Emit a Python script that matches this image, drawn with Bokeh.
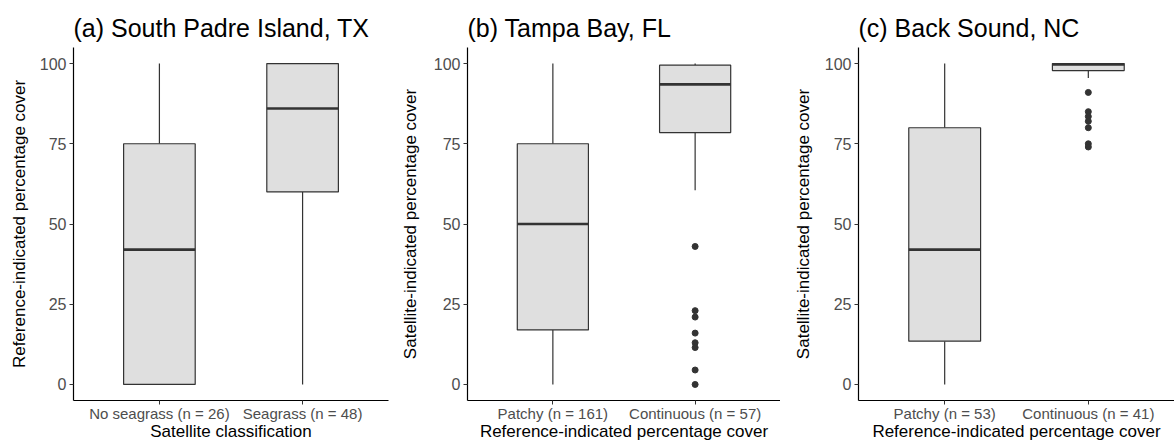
from bokeh.plotting import figure
from bokeh.layouts import row
from bokeh.models import Range1d, FixedTicker
from bokeh.embed import file_html
from bokeh.resources import INLINE

# ---- data ----
titles = ["(a) South Padre Island, TX", "(b) Tampa Bay, FL", "(c) Back Sound, NC"]
y_labels = ["Reference-indicated percentage cover",
            "Satellite-indicated percentage cover",
            "Satellite-indicated percentage cover"]
x_labels = ["Satellite classification",
            "Reference-indicated percentage cover",
            "Reference-indicated percentage cover"]

cats_a = ["No seagrass (n = 26)", "Seagrass (n = 48)"]
low_a = [0, 0]
q1_a = [0, 60]
med_a = [42, 86]
q3_a = [75, 100]
up_a = [100, 100]
out_a = [[], []]

cats_b = ["Patchy (n = 161)", "Continuous (n = 57)"]
low_b = [0, 60.5]
q1_b = [17, 78.5]
med_b = [50, 93.5]
q3_b = [75, 99.5]
up_b = [100, 100]
out_b = [[], [43, 23, 21, 16, 13, 11.5, 4.5, 0]]

cats_c = ["Patchy (n = 53)", "Continuous (n = 41)"]
low_c = [0, 95.5]
q1_c = [13.5, 97.8]
med_c = [42, 99.7]
q3_c = [80, 100]
up_c = [100, 100]
out_c = [[], [91, 85, 83.5, 82, 80, 75, 74]]

y_ticks = [0, 25, 50, 75, 100]

FONT = "Liberation Sans"
BOX_FILL = "#DFDFDF"
LINE = "#333333"


def panel(title, cats, low, q1, med, q3, up, outs, ylab, xlab, width, bl, br, ylab_standoff):
    p = figure(width=width, height=443, output_backend="svg", toolbar_location=None,
               x_range=Range1d(0.4, 2.6), y_range=Range1d(-5, 105),
               min_border_left=bl, min_border_right=br, min_border_top=47,
               min_border_bottom=43)
    p.title.text = title
    p.title.text_font = FONT
    p.title.text_font_size = "25px"
    p.title.text_font_style = "normal"
    p.title.align = "left"
    p.title.text_color = "black"
    p.title.offset = 0
    p.title.standoff = 12

    xs = [1, 2]
    # whiskers
    p.segment(x0=xs, y0=low, x1=xs, y1=q1, line_color=LINE, line_width=1.2)
    p.segment(x0=xs, y0=q3, x1=xs, y1=up, line_color=LINE, line_width=1.2)
    # boxes
    p.vbar(x=xs, width=0.5, bottom=q1, top=q3, fill_color=BOX_FILL,
           line_color=LINE, line_width=1.2)
    # medians
    p.segment(x0=[x - 0.25 for x in xs], y0=med, x1=[x + 0.25 for x in xs], y1=med,
              line_color=LINE, line_width=2.6)
    # outliers
    ox, oy = [], []
    for x, vals in zip(xs, outs):
        for v in vals:
            ox.append(x)
            oy.append(v)
    if ox:
        p.scatter(ox, oy, size=6, fill_color=LINE, line_color=LINE)

    p.xgrid.visible = False
    p.ygrid.visible = False
    p.outline_line_color = None

    p.xaxis.ticker = FixedTicker(ticks=xs)
    p.xaxis.major_label_overrides = {1: cats[0], 2: cats[1]}
    p.yaxis.ticker = FixedTicker(ticks=y_ticks)

    for ax in (p.xaxis, p.yaxis):
        ax.axis_line_color = "black"
        ax.axis_line_width = 1.2
        ax.major_tick_line_color = LINE
        ax.major_tick_in = 0
        ax.major_tick_out = 4
        ax.minor_tick_line_color = None
        ax.major_label_text_font = FONT
        ax.major_label_text_color = "#4D4D4D"
        ax.axis_label_text_font = FONT
        ax.axis_label_text_font_style = "normal"
        ax.axis_label_text_color = "black"
        ax.axis_label_text_font_size = "17px"
    p.xaxis.major_label_text_font_size = "15px"
    p.yaxis.major_label_text_font_size = "16px"
    p.xaxis.major_label_standoff = 0
    p.yaxis.major_label_standoff = 3
    p.xaxis.axis_label = xlab
    p.yaxis.axis_label = ylab
    p.xaxis.axis_label_standoff = -3
    p.yaxis.axis_label_standoff = ylab_standoff
    return p


pa = panel(titles[0], cats_a, low_a, q1_a, med_a, q3_a, up_a, out_a,
           y_labels[0], x_labels[0], 390, 73, 2, 8)
pb = panel(titles[1], cats_b, low_b, q1_b, med_b, q3_b, up_b, out_b,
           y_labels[1], x_labels[1], 390, 77, 0, 11)
pc = panel(titles[2], cats_c, low_c, q1_c, med_c, q3_c, up_c, out_c,
           y_labels[2], x_labels[2], 394, 78, 0, 9)

layout = row(pa, pb, pc, spacing=0)
open("out.html", "w").write(file_html(layout, INLINE))
